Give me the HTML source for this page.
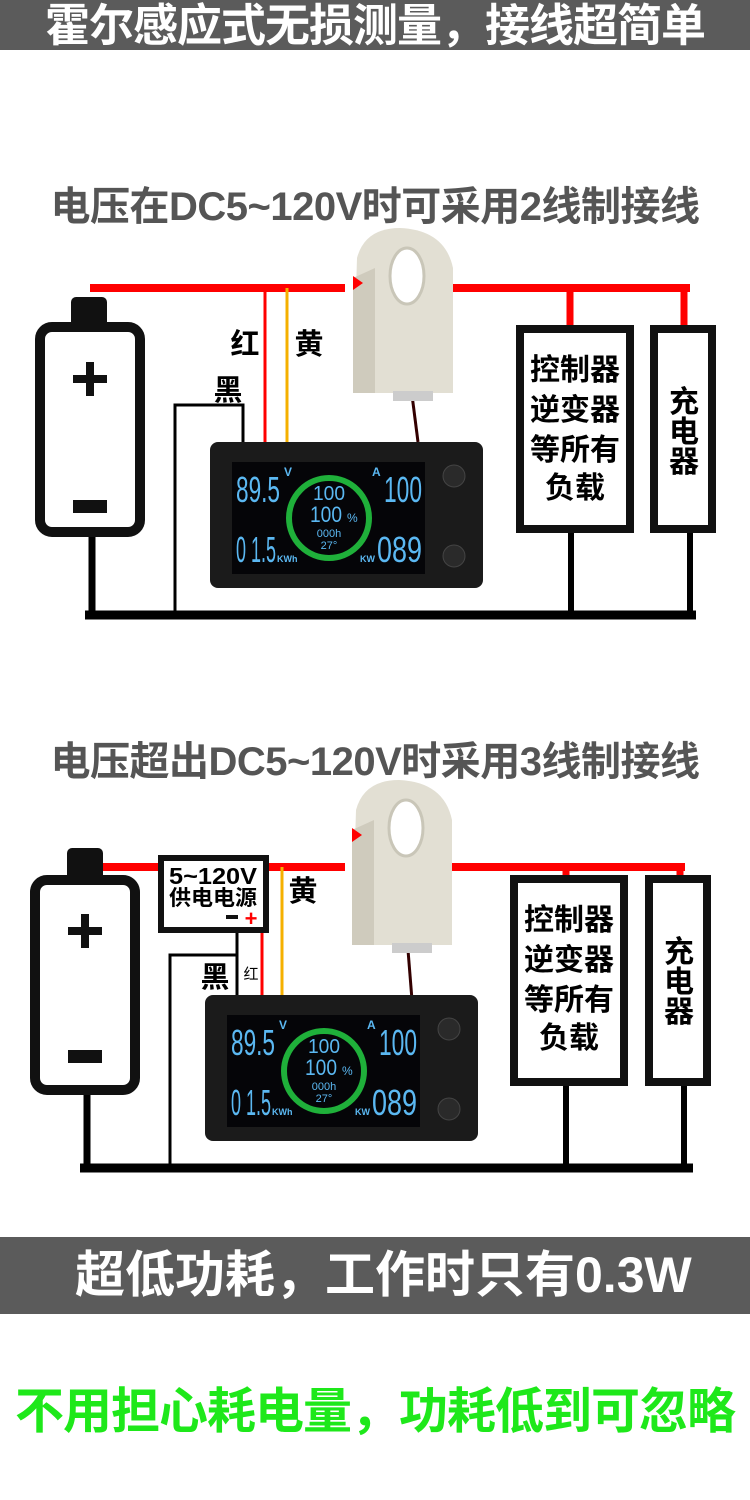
<!DOCTYPE html>
<html><head><meta charset="utf-8"><style>
body{margin:0;width:750px;height:1500px;background:#fff;position:relative;overflow:hidden;font-family:"Liberation Sans","Noto Sans CJK SC",sans-serif}
.a{position:absolute}
.bar{position:absolute;left:0;width:750px;background:#5b5b5b;color:#fff;font-weight:bold;white-space:nowrap}
.t{position:absolute;left:0;width:750px;text-align:center;font-weight:bold;color:#555;font-size:40px;white-space:nowrap;letter-spacing:-0.5px}
</style></head><body>
<div class="bar" style="top:0;height:50px;font-size:45px;line-height:52px;text-align:center;letter-spacing:-1px">霍尔感应式无损测量，接线超简单</div>
<div class="t" style="top:174px">电压在DC5~120V时可采用2线制接线</div>
<div class="t" style="top:729px">电压超出DC5~120V时采用3线制接线</div>

<svg class="a" style="left:0;top:0" width="750" height="1500" font-family="Liberation Sans,Noto Sans CJK SC,sans-serif" font-weight="bold">
<defs>
<g id="meter">
 <rect x="0" y="0" width="273" height="146" rx="8" fill="#1b1b1b"/>
 <rect x="22" y="20" width="193" height="112" fill="#050508"/>
 <text x="26" y="60" fill="#5bb8f2" font-size="36" font-weight="normal" textLength="44" lengthAdjust="spacingAndGlyphs">89.5</text>
 <text x="74" y="34" fill="#5bb8f2" font-size="12">V</text>
 <text x="162" y="34" fill="#5bb8f2" font-size="12">A</text>
 <text x="174" y="60" fill="#5bb8f2" font-size="36" font-weight="normal" textLength="38" lengthAdjust="spacingAndGlyphs">100</text>
 <text x="26" y="120" fill="#5bb8f2" font-size="36" font-weight="normal" textLength="40" lengthAdjust="spacingAndGlyphs">0 1.5</text>
 <text x="67" y="120" fill="#5bb8f2" font-size="9">KWh</text>
 <text x="150" y="120" fill="#5bb8f2" font-size="9">KW</text>
 <text x="167" y="120" fill="#5bb8f2" font-size="36" font-weight="normal" textLength="45" lengthAdjust="spacingAndGlyphs">089</text>
 <circle cx="119" cy="76" r="40" fill="none" stroke="#1fb03a" stroke-width="6"/>
 <text x="119" y="58" text-anchor="middle" fill="#5bb8f2" font-size="20" font-weight="normal" textLength="32" lengthAdjust="spacingAndGlyphs">100</text>
 <text x="116" y="80" text-anchor="middle" fill="#5bb8f2" font-size="22" font-weight="normal" textLength="32" lengthAdjust="spacingAndGlyphs">100</text>
 <text x="137" y="80" fill="#5bb8f2" font-size="12" font-weight="normal">%</text>
 <text x="119" y="95" text-anchor="middle" fill="#5bb8f2" font-size="11" font-weight="normal">000h</text>
 <text x="119" y="107" text-anchor="middle" fill="#5bb8f2" font-size="11" font-weight="normal">27°</text>
 <circle cx="244" cy="34" r="11" fill="#2a2a2a" stroke="#444"/>
 <circle cx="244" cy="114" r="11" fill="#2a2a2a" stroke="#444"/>
</g>
<g id="sensor">
 <path d="M12 30 Q20 0 55 0 Q100 2 108 40 L108 165 L8 165 Z" fill="#e2dfd3"/>
 <path d="M8 50 L8 165 L30 165 L30 40 Z" fill="#cfcbbd"/>
 <ellipse cx="62" cy="48" rx="17" ry="28" fill="#fff" stroke="#c9c6b8" stroke-width="3"/>
 <path d="M8 48 L18 55 L8 62 Z" fill="#f00"/>
 <rect x="48" y="163" width="40" height="10" fill="#ccc"/>
</g>
</defs>

<!-- Section 1 -->
<line x1="90" y1="288" x2="345" y2="288" stroke="#f00" stroke-width="8"/>
<line x1="400" y1="288" x2="690" y2="288" stroke="#f00" stroke-width="8"/>
<line x1="570" y1="288" x2="570" y2="325" stroke="#f00" stroke-width="7"/>
<line x1="684" y1="288" x2="684" y2="325" stroke="#f00" stroke-width="7"/>
<line x1="265" y1="288" x2="265" y2="442" stroke="#f00" stroke-width="3"/>
<line x1="287" y1="288" x2="287" y2="442" stroke="#f5b000" stroke-width="3"/>
<polyline points="175,615 175,405 243,405 243,442" fill="none" stroke="#000" stroke-width="3"/>
<line x1="85" y1="615" x2="696" y2="615" stroke="#000" stroke-width="9"/>
<line x1="92" y1="530" x2="92" y2="615" stroke="#000" stroke-width="7"/>
<line x1="571" y1="530" x2="571" y2="615" stroke="#000" stroke-width="6"/>
<line x1="690" y1="530" x2="690" y2="615" stroke="#000" stroke-width="6"/>
<rect x="71" y="297" width="36" height="30" rx="5" fill="#111"/>
<rect x="40" y="327" width="100" height="205" rx="12" fill="#fff" stroke="#111" stroke-width="10"/>
<rect x="73" y="375" width="34" height="8" fill="#111"/><rect x="86" y="362" width="8" height="34" fill="#111"/>
<rect x="73" y="500" width="34" height="13" fill="#111"/>
<text x="245" y="354" font-size="29" text-anchor="middle">红</text>
<text x="309" y="354" font-size="29" text-anchor="middle">黄</text>
<text x="228" y="400" font-size="29" text-anchor="middle">黑</text>
<line x1="412" y1="395" x2="418" y2="442" stroke="#300" stroke-width="3"/>
<use href="#sensor" x="345" y="228"/>
<use href="#meter" x="210" y="442"/>
<rect x="520" y="329" width="110" height="200" fill="#fff" stroke="#111" stroke-width="8"/>
<rect x="654" y="329" width="58" height="200" fill="#fff" stroke="#111" stroke-width="8"/>
<text font-size="30" text-anchor="middle"><tspan x="575" y="380">控制器</tspan><tspan x="575" y="420">逆变器</tspan><tspan x="575" y="460">等所有</tspan><tspan x="575" y="498">负载</tspan></text>
<text font-size="30" text-anchor="middle"><tspan x="684" y="412">充</tspan><tspan x="684" y="442">电</tspan><tspan x="684" y="472">器</tspan></text>

<!-- Section 2 -->
<line x1="85" y1="867" x2="345" y2="867" stroke="#f00" stroke-width="8"/>
<line x1="395" y1="867" x2="685" y2="867" stroke="#f00" stroke-width="8"/>
<line x1="566" y1="867" x2="566" y2="880" stroke="#f00" stroke-width="7"/>
<line x1="680" y1="867" x2="680" y2="880" stroke="#f00" stroke-width="7"/>
<line x1="282" y1="867" x2="282" y2="1000" stroke="#f5b000" stroke-width="3"/>
<line x1="262" y1="930" x2="262" y2="1000" stroke="#f00" stroke-width="3"/>
<polyline points="170,1168 170,955 237,955 237,1000" fill="none" stroke="#000" stroke-width="3"/>
<line x1="237" y1="930" x2="237" y2="955" stroke="#000" stroke-width="3"/>
<line x1="80" y1="1168" x2="693" y2="1168" stroke="#000" stroke-width="9"/>
<line x1="87" y1="1090" x2="87" y2="1168" stroke="#000" stroke-width="7"/>
<line x1="566" y1="1085" x2="566" y2="1168" stroke="#000" stroke-width="6"/>
<line x1="684" y1="1085" x2="684" y2="1168" stroke="#000" stroke-width="6"/>
<rect x="67" y="848" width="36" height="32" rx="5" fill="#111"/>
<rect x="35" y="880" width="100" height="210" rx="12" fill="#fff" stroke="#111" stroke-width="10"/>
<rect x="68" y="927" width="34" height="8" fill="#111"/><rect x="81" y="914" width="8" height="34" fill="#111"/>
<rect x="68" y="1050" width="34" height="13" fill="#111"/>
<rect x="161" y="858" width="105" height="72" fill="#fff" stroke="#111" stroke-width="6"/>
<text x="213" y="884" font-size="23" text-anchor="middle" textLength="88" lengthAdjust="spacingAndGlyphs">5~120V</text>
<text x="213" y="905" font-size="21" text-anchor="middle" textLength="88" lengthAdjust="spacingAndGlyphs">供电电源</text>
<rect x="226" y="915" width="12" height="4" fill="#111"/>
<text x="251" y="926" font-size="22" fill="#f00" text-anchor="middle">+</text>
<text x="303" y="901" font-size="29" text-anchor="middle">黄</text>
<text x="215" y="987" font-size="29" text-anchor="middle">黑</text>
<text x="251" y="979" font-size="15" font-weight="normal" text-anchor="middle">红</text>
<line x1="408" y1="950" x2="412" y2="1000" stroke="#300" stroke-width="3"/>
<use href="#sensor" x="344" y="780"/>
<use href="#meter" x="205" y="995"/>
<rect x="514" y="879" width="110" height="203" fill="#fff" stroke="#111" stroke-width="8"/>
<rect x="649" y="879" width="58" height="203" fill="#fff" stroke="#111" stroke-width="8"/>
<text font-size="30" text-anchor="middle"><tspan x="569" y="930">控制器</tspan><tspan x="569" y="970">逆变器</tspan><tspan x="569" y="1010">等所有</tspan><tspan x="569" y="1048">负载</tspan></text>
<text font-size="30" text-anchor="middle"><tspan x="679" y="962">充</tspan><tspan x="679" y="992">电</tspan><tspan x="679" y="1022">器</tspan></text>
</svg>

<div class="bar" style="top:1237px;height:77px;font-size:50px;line-height:77px;padding-left:75px;box-sizing:border-box">超低功耗，工作时只有0.3W</div>
<div class="a" style="left:0;top:1372px;width:750px;text-align:center;font-size:49px;font-weight:bold;color:#1ee81a;white-space:nowrap;letter-spacing:-1px">不用担心耗电量，功耗低到可忽略</div>
</body></html>
